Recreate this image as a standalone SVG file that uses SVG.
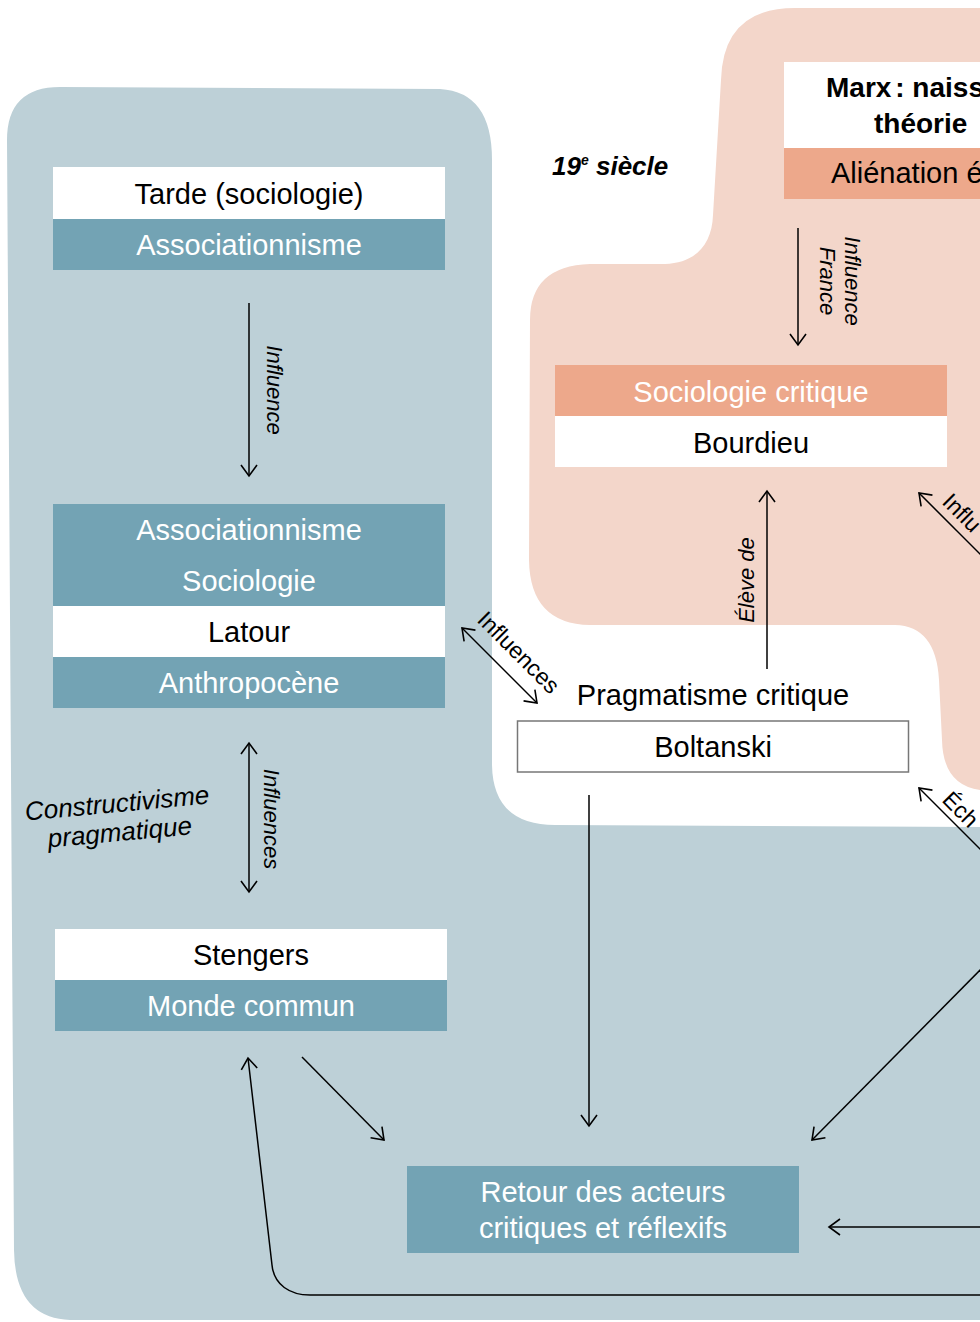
<svg xmlns="http://www.w3.org/2000/svg" width="980" height="1322" viewBox="0 0 980 1322">
<style>
.t{font-family:"Liberation Sans",Arial,sans-serif;font-size:29px;text-anchor:middle}
.w{fill:#ffffff}
.k{fill:#000000}
.b{font-weight:bold}
.lab{font-family:"Liberation Sans",Arial,sans-serif;font-size:22px;font-style:italic;fill:#000;text-anchor:middle}
.big{font-size:26px}
.dlab{font-family:"Liberation Sans",Arial,sans-serif;font-size:23px;fill:#000}
.conn{stroke:#000;stroke-width:1.5;fill:none;marker-end:url(#ah)}
.both{marker-start:url(#ah)}
.dark{fill:#73a3b4}
.pdark{fill:#eda88b}
.white{fill:#ffffff}
</style>
<defs>
<marker id="ah" viewBox="-13 -10 15 20" refX="0" refY="0" markerWidth="15" markerHeight="20" markerUnits="userSpaceOnUse" orient="auto-start-reverse">
<path d="M-11,-8 L0,0 L-11,8" fill="none" stroke="#000" stroke-width="1.6"/>
</marker>
</defs>
<rect width="980" height="1322" fill="#ffffff"/>
<g id="regions">
<path id="blue-region" d="M7,140 Q7,87 60,87 L440,89 Q492,92 492,160 L492,765 Q493,825 555,825 L980,827 L980,1320 L70,1320 Q15,1318 14,1250 Z" fill="#bdd0d7"/>
<path id="peach-region" d="M721,80 Q723,8 795,8 L980,8 L980,790 Q943,785 942,740 L939,680 Q936,626 895,625 L590,625 Q530,624 529,560 L530,320 Q530,266 590,264 L665,264 C695,263 712,245 713,215 Z" fill="#f3d6ca"/>
</g>
<g id="label-19">
<text x="552" y="175" font-family="Liberation Sans, Arial, sans-serif" font-size="26" font-weight="bold" font-style="italic">19<tspan dy="-10" font-size="14">e</tspan><tspan dy="10"> siècle</tspan></text>
</g>
<g id="tarde">
<rect x="53" y="167" width="392" height="52" class="white"/>
<rect x="53" y="219" width="392" height="51" class="dark"/>
<text x="249" y="204" class="t k">Tarde (sociologie)</text>
<text x="249" y="255" class="t w">Associationnisme</text>
</g>
<g id="latour">
<rect x="53" y="504" width="392" height="102" class="dark"/>
<rect x="53" y="606" width="392" height="51" class="white"/>
<rect x="53" y="657" width="392" height="51" class="dark"/>
<text x="249" y="540" class="t w">Associationnisme</text>
<text x="249" y="591" class="t w">Sociologie</text>
<text x="249" y="642" class="t k">Latour</text>
<text x="249" y="693" class="t w">Anthropocène</text>
</g>
<g id="constructivisme">
<g transform="translate(119,824) rotate(-5.3)">
<text x="0" y="-12" class="lab big">Constructivisme</text>
<text x="0" y="17" class="lab big">pragmatique</text>
</g>
</g>
<g id="stengers">
<rect x="55" y="929" width="392" height="51" class="white"/>
<rect x="55" y="980" width="392" height="51" class="dark"/>
<text x="251" y="965" class="t k">Stengers</text>
<text x="251" y="1016" class="t w">Monde commun</text>
</g>
<g id="marx">
<rect x="784" y="62" width="200" height="86" class="white"/>
<rect x="784" y="148" width="200" height="51" class="pdark"/>
<text x="826" y="97" class="t k b" style="text-anchor:start;font-size:28px">Marx<tspan font-size="14"> </tspan>: naiss</text>
<text x="874" y="133" class="t k b" style="text-anchor:start;font-size:28px">théorie</text>
<text x="831" y="183" class="t k" style="text-anchor:start">Aliénation é</text>
</g>
<g id="bourdieu">
<rect x="555" y="365" width="392" height="51" class="pdark"/>
<rect x="555" y="416" width="392" height="51" class="white"/>
<text x="751" y="402" class="t w">Sociologie critique</text>
<text x="751" y="453" class="t k">Bourdieu</text>
</g>
<g id="boltanski">
<text x="713" y="705" class="t k">Pragmatisme critique</text>
<rect x="517.5" y="721" width="391" height="51" fill="#ffffff" stroke="#777777" stroke-width="1.5"/>
<text x="713" y="757" class="t k">Boltanski</text>
</g>
<g id="retour">
<rect x="407" y="1166" width="392" height="87" class="dark"/>
<text x="603" y="1202" class="t w">Retour des acteurs</text>
<text x="603" y="1238" class="t w">critiques et réflexifs</text>
</g>
<g id="connectors">
<path class="conn" d="M249,303 L249,476"/>
<path class="conn both" d="M249,743 L249,892"/>
<path class="conn both" d="M462,628 L537,703"/>
<path class="conn" d="M767,669 L767,491"/>
<path class="conn" d="M798,228 L798,345"/>
<path class="conn" d="M990,564 L919,493"/>
<path class="conn" d="M990,859 L919,788"/>
<path class="conn" d="M589,795 L589,1126"/>
<path class="conn" d="M302,1057 L384,1140"/>
<path class="conn" d="M990,960 L812,1140"/>
<path class="conn" d="M990,1227 L829,1227"/>
<path class="conn" d="M990,1295 L310,1295 C290,1295 274,1285 272,1265 L248,1058"/>
</g>
<g id="connector-labels">
<text transform="translate(267,390) rotate(90)" class="lab">Influence</text>
<text transform="translate(264,819) rotate(90)" class="lab">Influences</text>
<text transform="translate(754,580) rotate(-90)" class="lab">Élève de</text>
<text transform="translate(845,281) rotate(90)" class="lab">Influence</text>
<text transform="translate(820,281) rotate(90)" class="lab">France</text>
<text transform="translate(476,621) rotate(45)" class="dlab">Influences</text>
<text transform="translate(941,503) rotate(45)" class="dlab">Influ</text>
<text transform="translate(941,801) rotate(45)" class="dlab">Éch</text>
</g>
</svg>
